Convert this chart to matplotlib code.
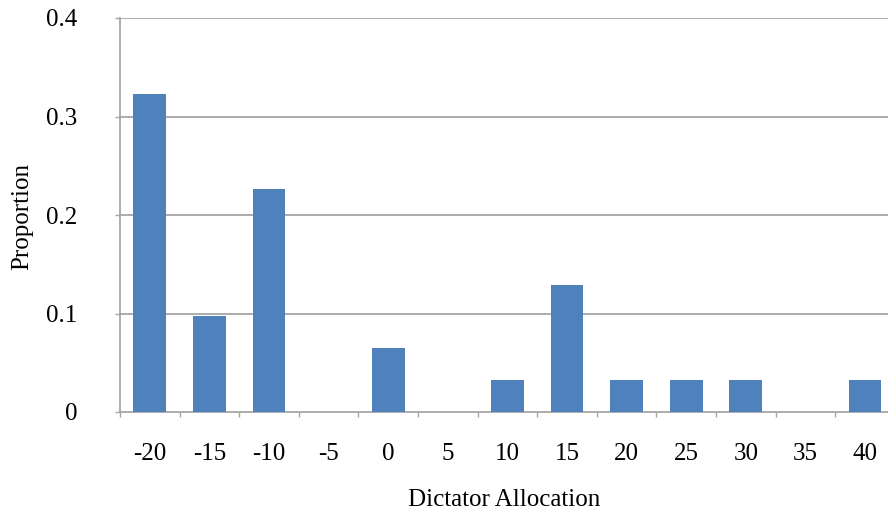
import matplotlib
matplotlib.use("Agg")
import matplotlib.pyplot as plt
import numpy as np

categories = ["-20", "-15", "-10", "-5", "0", "5", "10", "15", "20", "25", "30", "35", "40"]
proportions = [0.323, 0.097, 0.226, 0.0, 0.065, 0.0, 0.032, 0.129, 0.032, 0.032, 0.032, 0.0, 0.032]
y_ticks = [0, 0.1, 0.2, 0.3, 0.4]
y_tick_labels = ["0", "0.1", "0.2", "0.3", "0.4"]

plt.rcParams['font.family'] = ['Liberation Serif', 'DejaVu Serif']

W, H = 888, 517
fig = plt.figure(figsize=(W / 100, H / 100), dpi=100)
left_px, right_px, top_px, bottom_px = 120, 120 + 13 * 59.6, 18, 412
ax = fig.add_axes([left_px / W, (H - bottom_px) / H, (right_px - left_px) / W, (bottom_px - top_px) / H])

x = np.arange(len(categories))
ax.bar(x, proportions, width=0.55, color="#4F81BD", zorder=3)

ax.set_xlim(-0.5, len(categories) - 0.5)
ax.set_ylim(0, 0.4)

grid_color = "#A6A6A6"
fs = 18
ax.set_yticks(y_ticks)
ax.set_yticklabels(y_tick_labels, fontsize=fs)
for y in y_ticks[1:]:
    ax.axhline(y, color=grid_color, lw=1.3, zorder=1)

# x: major ticks at boundaries (no labels), minor at centres with labels
ax.set_xticks(np.arange(len(categories) + 1) - 0.5)
ax.set_xticklabels([])
ax.set_xticks(x, minor=True)
ax.set_xticklabels(categories, minor=True, fontsize=fs)
ax.tick_params(axis='x', which='major', length=3.6, width=1.0, color=grid_color, direction='out')
ax.tick_params(axis='x', which='minor', length=0, pad=22)
ax.tick_params(axis='y', which='major', length=3.6, width=1.0, color=grid_color, direction='out', pad=27)

for s in ["top", "right"]:
    ax.spines[s].set_visible(False)
for s in ["left", "bottom"]:
    ax.spines[s].set_color(grid_color)
    ax.spines[s].set_linewidth(1.3)

fig.text(504 / W, 1 - 500 / H, "Dictator Allocation", ha="center", va="center", fontsize=fs)
fig.text(22 / W, 1 - 217 / H, "Proportion", ha="center", va="center", rotation=90, fontsize=fs)

fig.savefig("out.png", dpi=100)
